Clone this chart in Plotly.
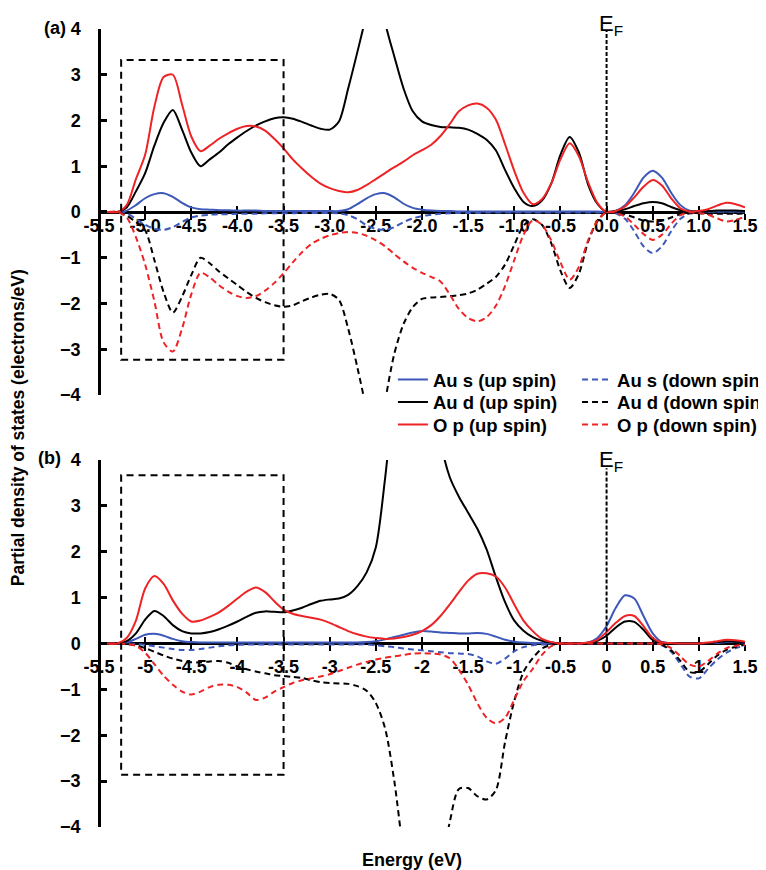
import plotly.graph_objects as go

# ---------------- data ----------------
energy = [-5.5, -5.4, -5.3, -5.2, -5.1, -5.0, -4.9, -4.8, -4.7, -4.6,
          -4.5, -4.4, -4.3, -4.2, -4.1, -4.0, -3.9, -3.8, -3.7, -3.6,
          -3.5, -3.4, -3.3, -3.2, -3.1, -3.0, -2.9, -2.8, -2.7, -2.6,
          -2.5, -2.4, -2.3, -2.2, -2.1, -2.0, -1.9, -1.8, -1.7, -1.6,
          -1.5, -1.4, -1.3, -1.2, -1.1, -1.0, -0.9, -0.8, -0.7, -0.6,
          -0.5, -0.4, -0.3, -0.2, -0.1, 0.0, 0.1, 0.2, 0.3, 0.4,
          0.5, 0.6, 0.7, 0.8, 0.9, 1.0, 1.1, 1.2, 1.3, 1.4,
          1.5]

# panel (a)
a_s_up = [0, 0, 0, 0.03, 0.15, 0.30, 0.39, 0.41, 0.33, 0.20,
          0.10, 0.06, 0.05, 0.04, 0.04, 0.03, 0.03, 0.03, 0.02, 0.02,
          0.02, 0.02, 0.02, 0.02, 0.02, 0.02, 0.02, 0.06, 0.17, 0.30,
          0.39, 0.41, 0.32, 0.18, 0.09, 0.05, 0.03, 0.02, 0.02, 0.01,
          0.01, 0.01, 0.01, 0.01, 0.01, 0.01, 0.01, 0.01, 0.01, 0.01,
          0.01, 0.01, 0.01, 0.01, 0.01, 0.0, 0.03, 0.15, 0.42, 0.75,
          0.90, 0.75, 0.42, 0.15, 0.03, 0.01, 0.01, 0.01, 0.01, 0.01,
          0.01]
a_s_dn = [0, 0, 0, -0.03, -0.15, -0.28, -0.37, -0.39, -0.33, -0.22,
          -0.12, -0.08, -0.06, -0.05, -0.05, -0.04, -0.04, -0.04, -0.03, -0.03,
          -0.03, -0.03, -0.02, -0.02, -0.02, -0.02, -0.03, -0.07, -0.16, -0.29,
          -0.37, -0.39, -0.33, -0.22, -0.14, -0.09, -0.06, -0.04, -0.03, -0.02,
          -0.02, -0.02, -0.01, -0.01, -0.01, -0.01, -0.01, -0.01, -0.01, -0.01,
          -0.01, -0.01, -0.01, -0.01, -0.01, 0.0, -0.03, -0.15, -0.42, -0.75,
          -0.90, -0.75, -0.42, -0.15, -0.03, -0.01, -0.01, -0.01, -0.01, -0.01,
          -0.01]
a_d_up = [0, 0, 0, 0.10, 0.45, 0.85, 1.45, 1.95, 2.23, 1.80,
          1.30, 1.00, 1.15, 1.30, 1.48, 1.63, 1.77, 1.89, 1.98, 2.05,
          2.07, 2.04, 1.97, 1.89, 1.82, 1.80, 1.98, 2.70, 3.50, 4.35,
          5.50, 4.15, 3.40, 2.70, 2.20, 1.98, 1.90, 1.86, 1.85, 1.84,
          1.80, 1.71, 1.58, 1.35, 0.92, 0.52, 0.22, 0.13, 0.25, 0.62,
          1.25, 1.64, 1.30, 0.60, 0.18, 0.0, 0.02, 0.06, 0.13, 0.19,
          0.22, 0.19, 0.11, 0.04, 0.01, 0.01, 0.02, 0.03, 0.03, 0.03,
          0.02]
a_d_dn = [0, 0, 0, -0.08, -0.22, -0.40, -1.05, -1.75, -2.20, -1.85,
          -1.38, -1.00, -1.12, -1.30, -1.45, -1.60, -1.75, -1.88, -1.97, -2.04,
          -2.07, -2.04, -1.95, -1.87, -1.81, -1.79, -1.92, -2.55, -3.40, -4.35,
          -5.50, -4.15, -3.10, -2.45, -2.08, -1.90, -1.87, -1.86, -1.84, -1.82,
          -1.78, -1.70, -1.57, -1.42, -1.15, -0.72, -0.30, -0.16, -0.28, -0.68,
          -1.28, -1.66, -1.35, -0.65, -0.20, 0.0, -0.01, -0.05, -0.12, -0.19,
          -0.21, -0.19, -0.12, -0.05, -0.03, -0.03, -0.04, -0.04, -0.04, -0.04,
          -0.03]
a_p_up = [0, 0, 0, 0.15, 0.72, 1.25, 2.30, 2.95, 3.00, 2.35,
          1.65, 1.33, 1.45, 1.60, 1.72, 1.82, 1.88, 1.87, 1.78, 1.60,
          1.39, 1.15, 0.95, 0.77, 0.62, 0.52, 0.46, 0.43, 0.48, 0.59,
          0.72, 0.85, 0.98, 1.10, 1.24, 1.35, 1.47, 1.66, 1.92, 2.20,
          2.33, 2.37, 2.28, 2.02, 1.48, 0.90, 0.42, 0.17, 0.28, 0.62,
          1.15, 1.50, 1.22, 0.65, 0.20, 0.0, 0.02, 0.12, 0.32, 0.55,
          0.70, 0.58, 0.30, 0.08, 0.01, 0.02, 0.06, 0.14, 0.20, 0.17,
          0.10]
a_p_dn = [0, 0, 0, -0.12, -0.55, -1.15, -1.95, -2.85, -3.05, -2.55,
          -1.80, -1.33, -1.43, -1.60, -1.74, -1.84, -1.88, -1.84, -1.72, -1.55,
          -1.34, -1.10, -0.88, -0.70, -0.59, -0.51, -0.46, -0.44, -0.46, -0.52,
          -0.62, -0.75, -0.92, -1.08, -1.22, -1.33, -1.42, -1.52, -1.80, -2.12,
          -2.32, -2.39, -2.30, -2.05, -1.62, -1.05, -0.50, -0.18, -0.28, -0.62,
          -1.10, -1.48, -1.20, -0.62, -0.20, 0.0, -0.02, -0.10, -0.28, -0.48,
          -0.61, -0.50, -0.26, -0.07, -0.01, -0.02, -0.06, -0.14, -0.21, -0.17,
          -0.10]

# panel (b)
b_s_up = [0, 0, 0, 0.02, 0.10, 0.19, 0.21, 0.17, 0.10, 0.05,
          0.03, 0.02, 0.02, 0.02, 0.02, 0.02, 0.02, 0.02, 0.02, 0.02,
          0.02, 0.02, 0.02, 0.02, 0.02, 0.02, 0.02, 0.02, 0.02, 0.03,
          0.05, 0.09, 0.14, 0.19, 0.24, 0.27, 0.26, 0.24, 0.23, 0.22,
          0.22, 0.23, 0.21, 0.15, 0.08, 0.04, 0.02, 0.01, 0.01, 0.0,
          0.0, 0.0, 0.0, 0.02, 0.12, 0.38, 0.78, 1.05, 0.98, 0.60,
          0.22, 0.03, 0.01, 0.0, 0.0, 0.0, 0.01, 0.01, 0.03, 0.03,
          0.02]
b_s_dn = [0, 0, 0, 0, -0.01, -0.03, -0.06, -0.09, -0.12, -0.14,
          -0.14, -0.12, -0.09, -0.06, -0.04, -0.03, -0.02, -0.02, -0.02, -0.02,
          -0.02, -0.02, -0.02, -0.02, -0.02, -0.02, -0.02, -0.02, -0.02, -0.02,
          -0.04, -0.06, -0.08, -0.11, -0.13, -0.15, -0.17, -0.19, -0.21, -0.22,
          -0.23, -0.28, -0.39, -0.44, -0.33, -0.17, -0.08, -0.04, -0.02, -0.01,
          0, 0, 0, 0, 0, 0, 0, 0, 0, 0,
          0, -0.04, -0.18, -0.45, -0.72, -0.76, -0.55, -0.35, -0.20, -0.10,
          -0.05]
b_d_up = [0, 0, 0, 0.05, 0.22, 0.52, 0.71, 0.60, 0.40, 0.27,
          0.22, 0.22, 0.25, 0.31, 0.39, 0.48, 0.58, 0.67, 0.70, 0.69,
          0.68, 0.72, 0.78, 0.86, 0.93, 0.96, 0.98, 1.06, 1.25, 1.55,
          2.10, 3.60, 5.50, 7.00, 7.50, 7.50, 6.50, 4.45, 3.63, 3.20,
          2.85, 2.50, 2.05, 1.45, 0.90, 0.50, 0.28, 0.14, 0.06, 0.02,
          0.0, 0.0, 0.0, 0.01, 0.06, 0.17, 0.35, 0.48, 0.47, 0.30,
          0.08, 0.02, 0.01, 0.0, 0.0, 0.0, 0.01, 0.03, 0.05, 0.04,
          0.03]
b_d_dn = [0, 0, 0, -0.01, -0.04, -0.10, -0.18, -0.26, -0.33, -0.38,
          -0.41, -0.41, -0.39, -0.38, -0.42, -0.50, -0.56, -0.61, -0.65, -0.69,
          -0.71, -0.73, -0.75, -0.80, -0.84, -0.86, -0.87, -0.88, -0.93, -1.03,
          -1.30, -1.85, -3.00, -4.60, -6.00, -6.50, -6.00, -5.00, -3.90, -3.17,
          -3.15, -3.33, -3.40, -3.20, -2.15, -1.25, -0.62, -0.32, -0.11, -0.03,
          0, 0, 0, 0, 0, 0, 0, 0, 0, 0,
          0, -0.03, -0.15, -0.38, -0.62, -0.62, -0.45, -0.26, -0.14, -0.07,
          -0.03]
b_p_up = [0, 0, 0, 0.12, 0.50, 1.20, 1.47, 1.30, 0.94, 0.65,
          0.48, 0.50, 0.58, 0.68, 0.82, 0.98, 1.13, 1.22, 1.12, 0.92,
          0.74, 0.65, 0.60, 0.56, 0.52, 0.45, 0.36, 0.27, 0.20, 0.15,
          0.12, 0.10, 0.11, 0.14, 0.19, 0.27, 0.40, 0.60, 0.85, 1.12,
          1.37, 1.52, 1.53, 1.46, 1.22, 0.85, 0.50, 0.27, 0.10, 0.03,
          0.0, 0.0, 0.0, 0.02, 0.08, 0.25, 0.45, 0.60, 0.60, 0.38,
          0.12, 0.02, 0.01, 0.0, 0.0, 0.0, 0.02, 0.05, 0.08, 0.07,
          0.04]
b_p_dn = [0, 0, 0, -0.01, -0.05, -0.20, -0.45, -0.70, -0.90, -1.05,
          -1.11, -1.05, -0.95, -0.90, -0.90, -0.95, -1.07, -1.23, -1.18, -1.05,
          -0.95, -0.86, -0.80, -0.76, -0.72, -0.67, -0.60, -0.53, -0.46, -0.40,
          -0.35, -0.31, -0.28, -0.25, -0.22, -0.21, -0.22, -0.24, -0.32, -0.57,
          -0.90, -1.30, -1.62, -1.74, -1.62, -1.22, -0.82, -0.55, -0.25, -0.06,
          0, 0, 0, 0, 0, 0, 0, 0, 0, 0,
          0, -0.02, -0.10, -0.28, -0.46, -0.50, -0.38, -0.22, -0.10, -0.05,
          -0.03]

series_names = ["Au s (up spin)", "Au s (down spin)", "Au d (up spin)",
                "Au d (down spin)", "O p (up spin)", "O p (down spin)"]
panel_a = [a_s_up, a_s_dn, a_d_up, a_d_dn, a_p_up, a_p_dn]
panel_b = [b_s_up, b_s_dn, b_d_up, b_d_dn, b_p_up, b_p_dn]

x_tickvals = [-5.5, -5.0, -4.5, -4.0, -3.5, -3.0, -2.5, -2.0, -1.5, -1.0, -0.5, 0.0, 0.5, 1.0, 1.5]
x_ticktext_a = ["-5.5", "-5.0", "-4.5", "-4.0", "-3.5", "-3.0", "-2.5", "-2.0", "-1.5", "-1.0",
                "-0.5", "0.0", "0.5", "1.0", "1.5"]
x_ticktext_b = ["-5.5", "-5", "-4.5", "-4", "-3.5", "-3", "-2.5", "-2", "-1.5", "-1",
                "-0.5", "0", "0.5", "1", "1.5"]
y_tickvals = [-4, -3, -2, -1, 0, 1, 2, 3, 4]

# highlighted boxes (x0, x1, y0, y1), Fermi-line heights and label heights
box_a = (-5.26, -3.5, -3.23, 3.32)
box_b = (-5.26, -3.5, -2.86, 3.67)
ef_top_a = 3.97
ef_top_b = 3.82
ef_label_a = 3.74
ef_label_b = 3.62

# ---------------- styling ----------------
FONT = "Liberation Sans, Arial, sans-serif"
BLUE = "#3D58B8"
RED = "#EE2326"
BLACK = "#000000"
colors = [BLUE, BLUE, BLACK, BLACK, RED, RED]
dashes = ["solid", "6px,4px", "solid", "6px,4px", "solid", "6px,4px"]
legend_ids = ["legend", "legend2", "legend3", "legend4", "legend5", "legend6"]
# legend entry anchor positions (paper coords): left / right column, three rows
legend_x = [0.455, 0.740, 0.455, 0.740, 0.455, 0.740]
legend_y = [0.5602, 0.5602, 0.5320, 0.5320, 0.5038, 0.5038]

fig = go.Figure()

for i, (name, ys) in enumerate(zip(series_names, panel_a)):
    fig.add_trace(go.Scatter(
        x=energy, y=ys, name=name, mode="lines",
        line=dict(color=colors[i], width=2, dash=dashes[i], shape="spline", smoothing=0.8),
        xaxis="x", yaxis="y", legend=legend_ids[i], showlegend=True))
for i, (name, ys) in enumerate(zip(series_names, panel_b)):
    fig.add_trace(go.Scatter(
        x=energy, y=ys, name=name, mode="lines",
        line=dict(color=colors[i], width=2, dash=dashes[i], shape="spline", smoothing=0.8),
        xaxis="x2", yaxis="y2", showlegend=False))

# helper traces for the inner half of the crossing x ticks
fig.add_trace(go.Scatter(x=[None], y=[None], xaxis="x3", yaxis="y", showlegend=False, hoverinfo="skip"))
fig.add_trace(go.Scatter(x=[None], y=[None], xaxis="x4", yaxis="y2", showlegend=False, hoverinfo="skip"))

TOP_DOM = [0.5414, 1.0]
BOT_DOM = [0.0, 0.4599]
pos_a = (TOP_DOM[0] + TOP_DOM[1]) / 2
pos_b = (BOT_DOM[0] + BOT_DOM[1]) / 2

tickfont = dict(family=FONT, size=18, color="black", weight="bold")

def xaxis_main(pos, ticktext, standoff):
    return dict(domain=[0, 1], range=[-5.5, 1.5], anchor="free", position=pos,
                tickmode="array", tickvals=x_tickvals, ticktext=ticktext,
                ticks="outside", ticklen=6, tickwidth=2, tickcolor="black",
                showline=True, linecolor="black", linewidth=2.5,
                showgrid=False, zeroline=False, tickfont=tickfont,
                ticklabelstandoff=standoff, layer="below traces")

def xaxis_inner(pos, over):
    return dict(domain=[0, 1], range=[-5.5, 1.5], anchor="free", position=pos,
                overlaying=over, tickmode="array", tickvals=x_tickvals,
                ticks="inside", ticklen=6, tickwidth=2, tickcolor="black",
                showticklabels=False, showline=False, showgrid=False, zeroline=False,
                layer="below traces")

def yaxis(dom):
    return dict(domain=dom, range=[-4, 4], anchor="free", position=0,
                tickmode="array", tickvals=y_tickvals,
                ticks="inside", ticklen=6, tickwidth=2.5, tickcolor="black",
                showline=True, linecolor="black", linewidth=2.5,
                showgrid=False, zeroline=False, tickfont=tickfont,
                ticklabelstandoff=14)

shapes = []
for (x0, x1, y0, y1), xr, yr in [(box_a, "x", "y"), (box_b, "x2", "y2")]:
    shapes.append(dict(type="rect", xref=xr, yref=yr, x0=x0, x1=x1, y0=y0, y1=y1,
                       line=dict(color="black", width=2, dash="7px,5px"), layer="above"))
for top, xr, yr in [(ef_top_a, "x", "y"), (ef_top_b, "x2", "y2")]:
    shapes.append(dict(type="line", xref=xr, yref=yr, x0=0, x1=0, y0=0, y1=top,
                       line=dict(color="black", width=2, dash="4px,2px"), layer="above"))

bold18 = dict(family=FONT, size=18, color="black", weight="bold")
annotations = [
    dict(text="(a)", xref="paper", yref="paper", x=-0.068, y=1.001, xanchor="center",
         yanchor="middle", showarrow=False, font=bold18),
    dict(text="(b)", xref="paper", yref="paper", x=-0.076, y=0.4624, xanchor="center",
         yanchor="middle", showarrow=False, font=bold18),
    dict(text="E<sub>F</sub>", xref="x", yref="y", x=0.05, y=ef_label_a, xanchor="center",
         yanchor="bottom", showarrow=False, font=dict(family=FONT, size=22, color="black")),
    dict(text="E<sub>F</sub>", xref="x2", yref="y2", x=0.05, y=ef_label_b, xanchor="center",
         yanchor="bottom", showarrow=False, font=dict(family=FONT, size=22, color="black")),
    dict(text="Partial density of states (electrons/eV)", xref="paper", yref="paper",
         x=-0.125, y=0.5, xanchor="center", yanchor="middle", textangle=-90, showarrow=False,
         font=dict(family=FONT, size=17.5, color="black", weight="bold")),
    dict(text="Energy (eV)", xref="paper", yref="paper", x=0.4845, y=-0.041,
         xanchor="center", yanchor="middle", showarrow=False, font=bold18),
]

legend_font = dict(family=FONT, size=18.5, color="black", weight="bold")
legend_layout = {}
for lid, lx, ly in zip(legend_ids, legend_x, legend_y):
    legend_layout[lid] = dict(x=lx, y=ly, xanchor="left", yanchor="middle", font=legend_font,
                              bgcolor="rgba(0,0,0,0)", itemwidth=30, tracegroupgap=0)

# the page adds an 8px body margin, so the figure is 8px smaller in each direction
fig.update_layout(
    width=758, height=862, autosize=False,
    margin=dict(l=91, r=21, t=21, b=43, autoexpand=False),
    paper_bgcolor="white", plot_bgcolor="white",
    font=dict(family=FONT, color="black"),
    xaxis=xaxis_main(pos_a, x_ticktext_a, -9),
    xaxis2=xaxis_main(pos_b, x_ticktext_b, 0),
    xaxis3=xaxis_inner(pos_a, "x"),
    xaxis4=xaxis_inner(pos_b, "x2"),
    yaxis=yaxis(TOP_DOM),
    yaxis2=yaxis(BOT_DOM),
    shapes=shapes,
    annotations=annotations,
    showlegend=True,
    **legend_layout,
)

fig.write_html("out.html")
